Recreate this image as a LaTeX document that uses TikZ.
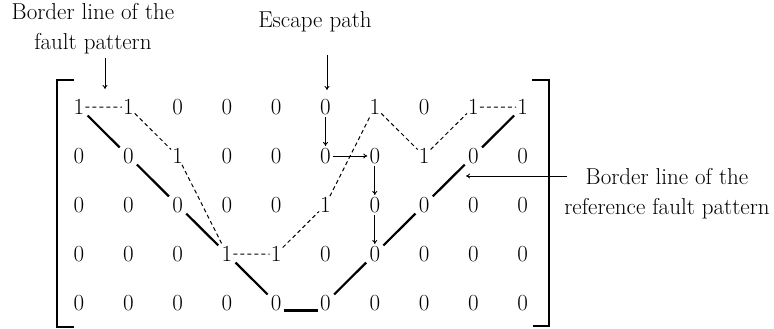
\documentclass[tikz,border=0pt]{standalone}
\usepackage{fontspec}
\usepackage{tikz}
\usetikzlibrary{arrows.meta,positioning,calc}
\tikzset{
  entry/.style={inner sep=1pt, font=\fontsize{23}{28}\selectfont},
  note/.style={align=center, font=\fontsize{23}{30}\selectfont},
  faultline/.style={line width=1pt, dash pattern=on 4pt off 3pt},
  refline/.style={line width=2.2pt, shorten <=3pt, shorten >=3pt},
  escape/.style={-{To[length=4pt,width=5pt]}, line width=0.9pt, shorten <=1pt, shorten >=1pt},
  pointer/.style={-{To[length=4pt,width=5pt]}, line width=0.9pt},
  bracket/.style={line width=1.8pt}
}
\begin{document}
\begin{tikzpicture}[x=1pt, y=-1pt]
  \useasboundingbox (0,0) rectangle (774,329);
  % matrix entries
  \foreach \row [count=\r from 0] in {{1,1,0,0,0,0,1,0,1,1},{0,0,1,0,0,0,0,1,0,0},{0,0,0,0,0,1,0,0,0,0},{0,0,0,1,1,0,0,0,0,0},{0,0,0,0,0,0,0,0,0,0}}
    \foreach \v [count=\c from 0] in \row
      \node[entry] (m\r\c) at ({79+49.3*\c},{107+49*\r}) {\v};
  % brackets
  \draw[bracket] (74,80) -- (57,80) -- (57,327) -- (74,327);
  \draw[bracket] (532,80) -- (549,80) -- (549,326) -- (533,326);
  % border line of the fault pattern
  \draw[faultline] (m00) -- (m01) -- (m12) -- (m33) -- (m34) -- (m25) -- (m06) -- (m17) -- (m08) -- (m09);
  % border line of the reference fault pattern
  \foreach \a/\b in {00/11, 11/22, 22/33, 33/44, 45/36, 36/27, 27/18, 18/09}
    \draw[refline] (m\a) -- (m\b);
  \draw[refline, shorten <=1pt, shorten >=1pt] (m44.base east) -- (m45.base west);
  % escape path
  \draw[escape] (m05) -- (m15);
  \draw[escape] (m15) -- (m16);
  \draw[escape] (m16) -- (m26);
  \draw[escape] (m26) -- (m36);
  % labels
  \node[note] (fault) at (93,29) {Border line of the\\fault pattern};
  \node[note] (esc) at (315,22) {Escape path};
  \node[note] (ref) at (667,194) {Border line of the\\reference fault pattern};
  \coordinate (faulttail) at (105,58);
  \coordinate (faulttip) at (105,89);
  \coordinate (esctail) at (327,55);
  \coordinate (esctip) at (327,90);
  \coordinate (reftail) at (567,176);
  \coordinate (reftip) at (466,176);
  \draw[pointer] (faulttail) -- (faulttip);
  \draw[pointer] (esctail) -- (esctip);
  \draw[pointer] (reftail) -- (reftip);
\end{tikzpicture}
\end{document}
